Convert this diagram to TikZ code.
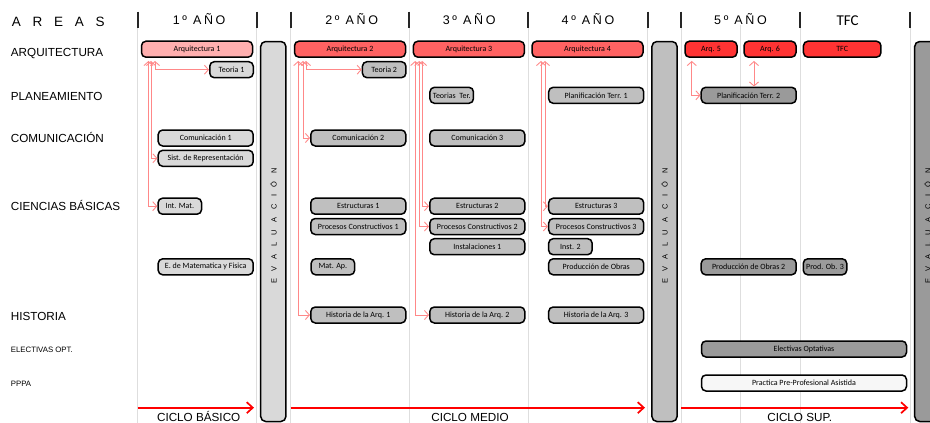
\documentclass[tikz,border=0pt]{standalone}
\usepackage{fontspec}
\setmainfont{Liberation Sans}
\newfontfamily\cajafont{Carlito}
\newfontfamily\areasfont[LetterSpace=87]{Liberation Sans}
\newfontfamily\aniofont[LetterSpace=21]{Liberation Sans}
\newfontfamily\evfont[LetterSpace=100]{Liberation Sans}
\usetikzlibrary{arrows.meta}

\definecolor{arqA}{HTML}{FFAFAF}
\definecolor{arqB}{HTML}{FF6262}
\definecolor{arqC}{HTML}{FF3333}
\definecolor{grisA}{HTML}{D9D9D9}
\definecolor{grisB}{HTML}{BFBFBF}
\definecolor{grisC}{HTML}{9A9A9A}
\definecolor{blancoP}{HTML}{F7F7F7}
\definecolor{enlaceR}{HTML}{FF8888}
\definecolor{lineaG}{HTML}{DEDEDE}

\tikzset{
    caja/.style={draw=black, line width=1.5pt, rounded corners=4.5pt, inner sep=0pt,
        minimum height=16pt, font=\cajafont\fontsize{8}{9}\selectfont},
    ancha/.style={minimum width=111pt},
    media/.style={minimum width=95pt},
    corta/.style={minimum width=43.5pt},
    area/.style={anchor=base west, inner sep=0pt, font=\fontsize{11.7}{13}\selectfont},
    areachica/.style={anchor=base west, inner sep=0pt, font=\fontsize{7.8}{9}\selectfont},
    anio/.style={anchor=base, inner sep=0pt, font=\aniofont\fontsize{12.5}{14}\selectfont},
    barra/.style={draw=black, line width=1.5pt, rounded corners=5pt, inner sep=0pt,
        minimum width=25.2pt, minimum height=380pt},
    evtexto/.style={rotate=90, inner sep=0pt, font=\evfont\fontsize{7.5}{8}\selectfont},
    enlace/.style={draw=enlaceR, line width=0.9pt, >={Straight Barb[length=4pt,width=9pt]}, <->, shorten <=3pt},
    ciclo/.style={draw=red, line width=1.7pt, -{Straight Barb[length=6pt,width=11pt]}},
    ciclotexto/.style={anchor=base, inner sep=0pt, font=\fontsize{11.7}{13}\selectfont},
    separa/.style={draw=lineaG, line width=0.8pt},
    marca/.style={draw=black!85, line width=2pt}
}

\begin{document}
\begin{tikzpicture}[x=1pt,y=-1pt]
    \useasboundingbox (0,0) rectangle (930,423);
    % lineas de columnas
    \draw[separa] (137.7,28) -- (137.7,423) (256.7,28) -- (256.7,423) (290.7,28) -- (290.7,423)
        (409.3,28) -- (409.3,423) (528.3,28) -- (528.3,423) (647.7,28) -- (647.7,423)
        (681,28) -- (681,423) (740.7,25) -- (740.7,423) (800,28) -- (800,423) (910,28) -- (910,423);
    \draw[marca] (137.7,11.7) -- (137.7,28.3) (256.7,11.7) -- (256.7,28.3) (290.7,11.7) -- (290.7,28.3)
        (409.3,11.7) -- (409.3,28.3) (528.3,11.7) -- (528.3,28.3) (647.7,11.7) -- (647.7,28.3)
        (681,11.7) -- (681,28.3) (800,11.7) -- (800,28.3) (910,11.7) -- (910,28.3);
    % encabezados
    \node[anchor=base west, inner sep=0pt, font=\areasfont\fontsize{13.5}{15}\selectfont] (areas) at (11.7,26) {AREAS};
    \node[anio] (an1) at (199.2,24) {1º AÑO};
    \node[anio] (an2) at (351.7,24) {2º AÑO};
    \node[anio] (an3) at (469.2,24) {3º AÑO};
    \node[anio] (an4) at (588,24) {4º AÑO};
    \node[anio] (an5) at (740.5,24) {5º AÑO};
    \node[anchor=base, inner sep=0pt, font=\cajafont\fontsize{15}{17}\selectfont] (antfc) at (847.7,25.5) {TFC};
    % areas
    \node[area] (rarq) at (10.7,56.7) {ARQUITECTURA};
    \node[area] (rpla) at (10.7,100) {PLANEAMIENTO};
    \node[area] (rcom) at (10.7,142.5) {COMUNICACIÓN};
    \node[area] (rcie) at (10.7,210.5) {CIENCIAS BÁSICAS};
    \node[area] (rhis) at (10.7,320) {HISTORIA};
    \node[areachica] (rele) at (10.7,352.3) {ELECTIVAS OPT.};
    \node[areachica] (rppa) at (10.7,386) {PPPA};
    % evaluaciones
    \node[barra,fill=grisA] (ev1) at (273.3,231.5) {};
    \node[barra,fill=grisB] (ev2) at (664.5,231.5) {};
    \node[barra,fill=grisC] (ev3) at (927.3,231.5) {};
    \node[evtexto] (evt1) at (273.3,226) {EVALUACIÓN};
    \node[evtexto] (evt2) at (664.5,226) {EVALUACIÓN};
    \node[evtexto] (evt3) at (927.3,226) {EVALUACIÓN};
    % primer año
    \node[caja,ancha,fill=arqA] (arq1) at (197,49.2) {Arquitectura 1};
    \node[caja,corta,fill=grisA] (teo1) at (231.5,69.7) {Teoria 1};
    \node[caja,media,fill=grisA] (com1) at (205.7,138) {Comunicación 1};
    \node[caja,media,fill=grisA] (sis1) at (205.7,158.3) {Sist. de Representación};
    \node[caja,corta,fill=grisA] (mat1) at (179.8,206.2) {Int. Mat.};
    \node[caja,media,fill=grisA] (emf1) at (205.7,266.8) {E. de Matematica y Fisica};
    % segundo año
    \node[caja,ancha,fill=arqB] (arq2) at (350,49.2) {Arquitectura 2};
    \node[caja,corta,fill=grisB] (teo2) at (384.2,69.7) {Teoria 2};
    \node[caja,media,fill=grisB] (com2) at (358.3,138) {Comunicación 2};
    \node[caja,media,fill=grisB] (est1) at (358.3,206.2) {Estructuras 1};
    \node[caja,media,fill=grisB] (pro1) at (358.3,226.5) {Procesos Constructivos 1};
    \node[caja,corta,fill=grisB] (map1) at (332.9,266.8) {Mat. Ap.};
    \node[caja,media,fill=grisB] (his1) at (358.3,315) {Historia de la Arq. 1};
    % tercer año
    \node[caja,ancha,fill=arqB] (arq3) at (468.9,49.2) {Arquitectura 3};
    \node[caja,corta,fill=grisB] (teoT) at (451.7,95.3) {Teorias~~Ter.};
    \node[caja,media,fill=grisB] (com3) at (477.3,138) {Comunicación 3};
    \node[caja,media,fill=grisB] (est2) at (477.3,206.2) {Estructuras 2};
    \node[caja,media,fill=grisB] (pro2) at (477.3,226.5) {Procesos Constructivos 2};
    \node[caja,media,fill=grisB] (ins1) at (477.3,246.7) {Instalaciones 1};
    \node[caja,media,fill=grisB] (his2) at (477.3,315) {Historia de la Arq. 2};
    % cuarto año
    \node[caja,ancha,fill=arqB] (arq4) at (587.5,49.2) {Arquitectura 4};
    \node[caja,media,fill=grisB] (pla1) at (596.2,95.3) {Planificación Terr. 1};
    \node[caja,media,fill=grisB] (est3) at (596.2,206.2) {Estructuras 3};
    \node[caja,media,fill=grisB] (pro3) at (596.2,226.5) {Procesos Constructivos 3};
    \node[caja,corta,fill=grisB] (ins2) at (570.4,246.7) {Inst. 2};
    \node[caja,media,fill=grisB] (pob1) at (596.2,266.8) {Producción de Obras};
    \node[caja,media,fill=grisB] (his3) at (596.2,315) {Historia de la Arq. 3};
    % quinto año y TFC
    \node[caja,minimum width=52pt,fill=arqC] (arq5) at (711,49.2) {Arq. 5};
    \node[caja,minimum width=52pt,fill=arqC] (arq6) at (770,49.2) {Arq. 6};
    \node[caja,minimum width=77.5pt,fill=arqC] (tfc) at (842.2,49.2) {TFC};
    \node[caja,media,fill=grisC] (pla2) at (748.7,95.3) {Planificación Terr. 2};
    \node[caja,media,fill=grisC] (pob2) at (748.7,266.8) {Producción de Obras 2};
    \node[caja,corta,fill=grisC] (pob3) at (825,266.8) {Prod. Ob. 3};
    \node[caja,minimum width=205pt,fill=grisC] (ele) at (804,349) {Electivas Optativas};
    \node[caja,minimum width=205pt,fill=blancoP] (ppa) at (804,383) {Practica Pre-Profesional Asistida};
    % enlaces
    \draw[enlace] ([xshift=14.25pt]arq1.south west) |- (teo1.west);
    \draw[enlace] ([xshift=10.25pt]arq1.south west) |- (sis1.west);
    \draw[enlace] ([xshift=7.75pt]arq1.south west) |- (mat1.west);
    \draw[enlace] ([xshift=12.25pt]arq2.south west) |- (teo2.west);
    \draw[enlace] ([xshift=9.25pt]arq2.south west) |- (com2.west);
    \draw[enlace] ([xshift=4.5pt]arq2.south west) |- (his1.west);
    \draw[enlace] ([xshift=9.5pt]arq3.south west) |- (est2.west);
    \draw[enlace] ([xshift=6.5pt]arq3.south west) |- (pro2.west);
    \draw[enlace] ([xshift=2.5pt]arq3.south west) |- (his2.west);
    \draw[enlace] ([xshift=13.75pt]arq4.south west) |- (est3.west);
    \draw[enlace] ([xshift=9.75pt]arq4.south west) |- (pro3.west);
    \draw[enlace] ([xshift=7.5pt]arq5.south west) |- (pla2.west);
    \coordinate (a6) at ([xshift=10.75pt]arq6.south west);
    \draw[enlace] (a6) -- (a6 |- pla2.north);
    % ciclos
    \draw[ciclo] (137.7,407.7) -- (254,407.7);
    \draw[ciclo] (290.7,407.7) -- (645,407.7);
    \draw[ciclo] (681,407.7) -- (908.3,407.7);
    \node[ciclotexto] (cbas) at (198.7,421.7) {CICLO BÁSICO};
    \node[ciclotexto] (cmed) at (470,421.7) {CICLO MEDIO};
    \node[ciclotexto] (csup) at (799.7,421.7) {CICLO SUP.};
\end{tikzpicture}
\end{document}
